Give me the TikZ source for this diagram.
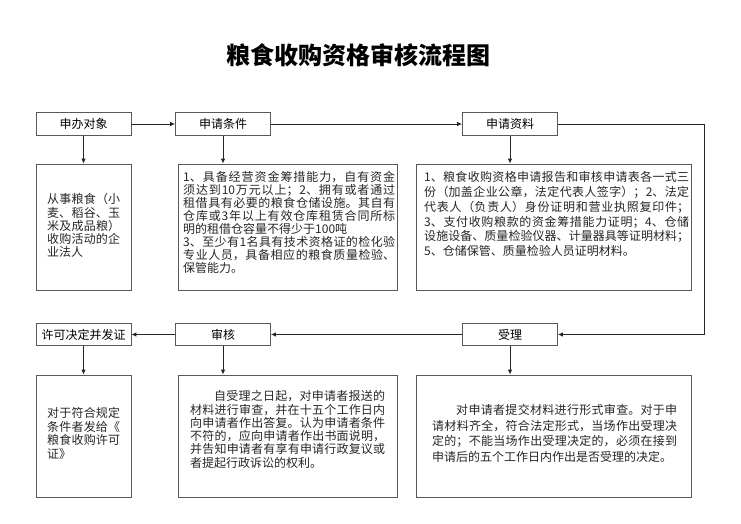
\documentclass[tikz,border=0pt]{standalone}
\usepackage{fontspec}
\setmainfont{Noto Sans CJK SC}
\XeTeXlinebreaklocale "zh"
\XeTeXlinebreakskip=0pt plus 2pt minus 0.3pt
\usetikzlibrary{arrows.meta}

\begin{document}
\begin{tikzpicture}[x=1pt, y=-1pt,
    head/.style = {draw=black!65, line width=0.8pt, minimum width=95pt, minimum height=22.5pt, inner sep=0pt, font=\fontsize{12}{13}\selectfont},
    card/.style = {draw=black!65, line width=0.8pt, inner sep=0pt},
    body/.style = {anchor=north west, inner sep=0pt, align=justify, text=black!85},
    link/.style = {draw=black!85, line width=0.9pt, -{Latex[length=5pt, width=4.5pt]}}]
            \useasboundingbox (0,0) rectangle (741,524);

            \node[font=\fontsize{24}{28}\selectfont\bfseries] (title) at (358.5,55) {粮食收购资格审核流程图};

            \node[head] (obj)  at ( 83.5,124) {申办对象};
            \node[head] (cond) at (223,124) {申请条件};
            \node[head] (docs) at (510,124) {申请资料};
            \node[head] (perm) at ( 83.5,334.5) {许可决定并发证};
            \node[head] (rev)  at (223,334.5) {审核};
            \node[head] (acc)  at (510,334.5) {受理};

            \node[card, minimum width=95pt,  minimum height=126pt] (objbox)  at ( 83.5,227) {};
            \node[card, minimum width=219pt, minimum height=126pt] (condbox) at (287.5,227) {};
            \node[card, minimum width=275pt, minimum height=126pt] (docsbox) at (553.5,227) {};
            \node[card, minimum width=95pt,  minimum height=122pt] (permbox) at ( 83.5,436) {};
            \node[card, minimum width=219pt, minimum height=122pt] (revbox)  at (287.5,436) {};
            \node[card, minimum width=275pt, minimum height=122pt] (accbox)  at (553.5,436) {};

            \node[body, text width=73pt, font=\fontsize{12}{13.2}\selectfont] (objtxt) at (47,193.4)
                {从事粮食（小\break 麦、稻谷、玉\break 米及成品粮）\break 收购活动的企\break 业法人};
            \node[body, text width=212pt, font=\fontsize{12}{12.9}\selectfont] (condtxt) at (183,171.4)
                {1、具备经营资金筹措能力，自有资金\break 须达到10万元以上；2、拥有或者通过\break 租借具有必要的粮食仓储设施。其自有\break 仓库或3年以上有效仓库租赁合同所标\break 明的租借仓容量不得少于100吨\\ 3、至少有1名具有技术资格证的检化验\break 专业人员，具备相应的粮食质量检验、\break 保管能力。};
            \node[body, text width=265pt, font=\fontsize{12}{14.8}\selectfont] (docstxt) at (424,171.4)
                {1、粮食收购资格申请报告和审核申请表各一式三\break 份（加盖企业公章，法定代表人签字）；2、法定\break 代表人（负责人）身份证明和营业执照复印件；\break 3、支付收购粮款的资金筹措能力证明；4、仓储\break 设施设备、质量检验仪器、计量器具等证明材料；\break 5、仓储保管、质量检验人员证明材料。};
            \node[body, text width=73pt, font=\fontsize{12}{13.6}\selectfont] (permtxt) at (47,407.4)
                {对于符合规定\break 条件者发给《\break 粮食收购许可\break 证》};
            \node[body, text width=195pt, font=\fontsize{12}{13.3}\selectfont] (revtxt) at (190,390.4)
                {\hspace*{2em}自受理之日起，对申请者报送的\break 材料进行审查，并在十五个工作日内\break 向申请者作出答复。认为申请者条件\break 不符的，应向申请者作出书面说明，\break 并告知申请者有享有申请行政复议或\break 者提起行政诉讼的权利。};
            \node[body, text width=245pt, font=\fontsize{12}{15.6}\selectfont] (acctxt) at (432,404.4)
                {\hspace*{2em}对申请者提交材料进行形式审查。对于申\break 请材料齐全，符合法定形式，当场作出受理决\break 定的；不能当场作出受理决定的，必须在接到\break 申请后的五个工作日内作出是否受理的决定。};

            \coordinate (turn) at (704,230);

            \draw[link] (obj) -- (cond);
            \draw[link] (cond) -- (docs);
            \draw[link] (docs.east) -| (turn) |- (acc.east);
            \draw[link] (acc) -- (rev);
            \draw[link] (rev) -- (perm);

            \draw[link] (obj)  -- (obj  |- objbox.north);
            \draw[link] (cond) -- (cond |- condbox.north);
            \draw[link] (docs) -- (docs |- docsbox.north);
            \draw[link] (perm) -- (perm |- permbox.north);
            \draw[link] (rev)  -- (rev  |- revbox.north);
            \draw[link] (acc)  -- (acc  |- accbox.north);
        \end{tikzpicture}
\end{document}
